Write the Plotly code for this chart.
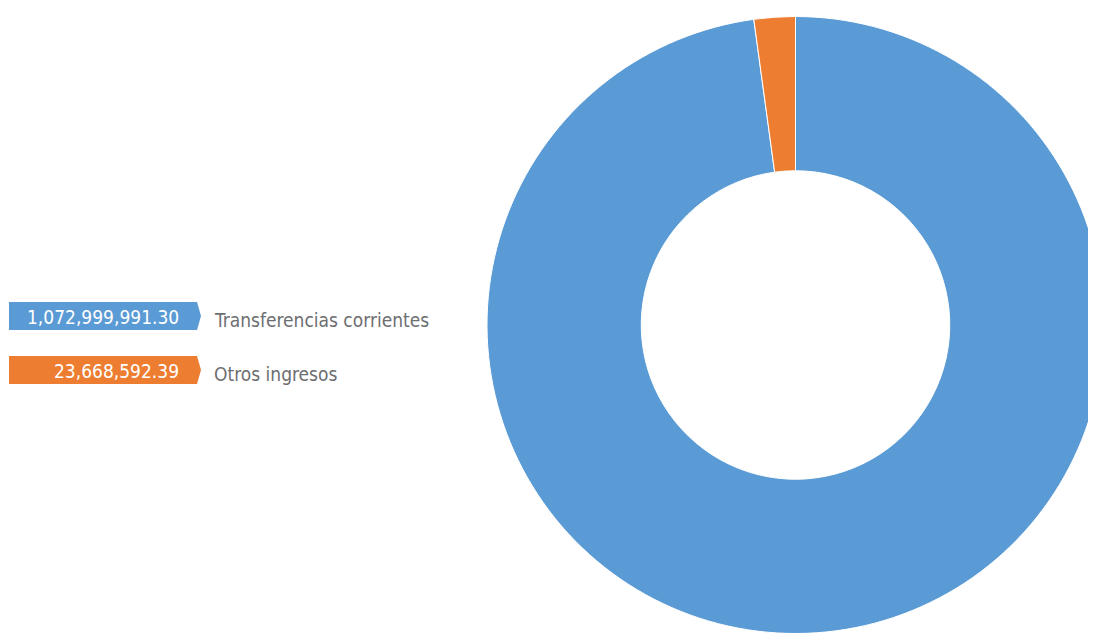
import plotly.graph_objects as go

categories = ["Transferencias corrientes", "Otros ingresos"]
values = [1072999991.30, 23668592.39]
colors = ["#5B9BD5", "#ED7D31"]

W, H = 1096, 633
OFF = 8  # page body margin offset

fig = go.Figure(go.Pie(
    labels=categories,
    values=values,
    hole=0.5,
    sort=False,
    direction="clockwise",
    rotation=0,
    marker=dict(colors=colors, line=dict(color="white", width=1)),
    textinfo="none",
    hoverinfo="label+value",
    showlegend=False,
    domain=dict(x=[479 / W, 1.0], y=[1 - 627 / H, 1 - 7 / H]),
))

def px(x):
    return (x - OFF) / W

def py(y):
    return 1 - (y - OFF) / H

shapes = []
annotations = []
font_family = "DejaVu Sans Condensed, Liberation Sans Narrow, Roboto, sans-serif"
for i, (cat, val, col) in enumerate(zip(categories, values, colors)):
    top = 302 + i * 54
    bot = top + 28
    mid = (top + bot) / 2
    path = (f"M {px(9)} {py(top)} L {px(197)} {py(top)} L {px(201)} {py(mid)} "
            f"L {px(197)} {py(bot)} L {px(9)} {py(bot)} Z")
    shapes.append(dict(type="path", path=path, xref="paper", yref="paper",
                       fillcolor=col, line=dict(width=0)))
    annotations.append(dict(x=px(181), y=py(mid + 1), xref="paper", yref="paper",
                            text=f"{val:,.2f}", showarrow=False, xanchor="right",
                            yanchor="middle",
                            font=dict(family=font_family, size=19, color="white")))
    annotations.append(dict(x=px(212), y=py(mid + 4), xref="paper", yref="paper",
                            text=cat, showarrow=False, xanchor="left", yanchor="middle",
                            font=dict(family=font_family, size=19, color="#6d6e71")))

fig.update_layout(
    width=W, height=H,
    margin=dict(l=0, r=0, t=0, b=0),
    paper_bgcolor="white",
    plot_bgcolor="white",
    shapes=shapes,
    annotations=annotations,
)

fig.write_html("out.html")
